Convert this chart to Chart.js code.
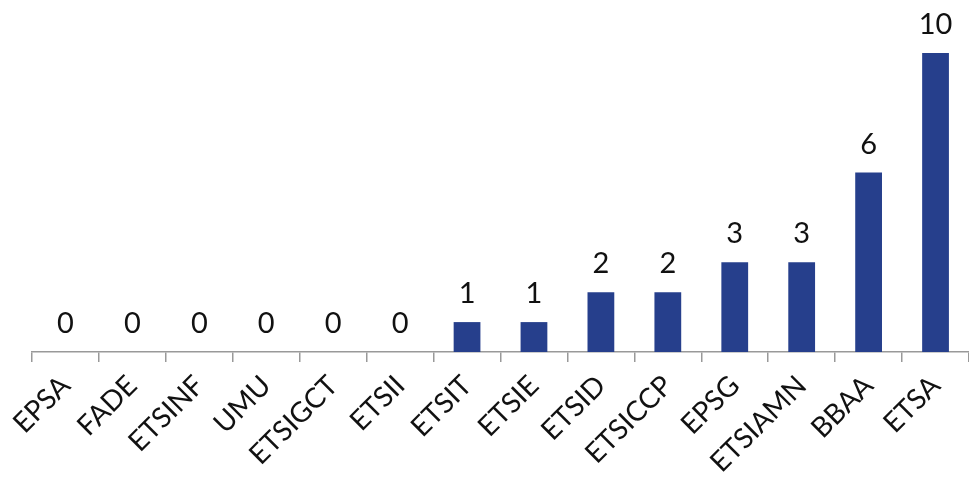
<!DOCTYPE html>
<html>
<head>
<meta charset="utf-8">
<script src="https://cdn.jsdelivr.net/npm/chart.js@4"></script>
<style>
html,body{margin:0;padding:0;background:#fff;}
#wrap{width:969px;height:478px;position:relative;}
</style>
</head>
<body>
<div id="wrap"><canvas id="c"></canvas></div>
<script>
const categories = ["EPSA","FADE","ETSINF","UMU","ETSIGCT","ETSII","ETSIT","ETSIE","ETSID","ETSICCP","EPSG","ETSIAMN","BBAA","ETSA"];
const values = [0,0,0,0,0,0,1,1,2,2,3,3,6,10];

const FONT = "'Lato','Open Sans','DejaVu Sans',sans-serif";

const valueLabels = {
  id: 'valueLabels',
  afterDatasetsDraw(chart) {
    const ctx = chart.ctx;
    const meta = chart.getDatasetMeta(0);
    ctx.save();
    ctx.fillStyle = '#111';
    ctx.font = "29px " + FONT;
    ctx.textAlign = 'center';
    ctx.textBaseline = 'alphabetic';
    meta.data.forEach((bar, i) => {
      ctx.fillText(String(values[i]), bar.x, bar.y - 19);
    });
    ctx.restore();
  }
};

new Chart(document.getElementById('c'), {
  type: 'bar',
  data: {
    labels: categories,
    datasets: [{
      data: values,
      backgroundColor: '#263F8C',
      borderWidth: 0,
      barPercentage: 0.4,
      categoryPercentage: 1.0
    }]
  },
  options: {
    responsive: true,
    maintainAspectRatio: false,
    animation: false,
    layout: { padding: { top: 23, left: 32, right: 0, bottom: 0 } },
    plugins: { legend: { display: false }, tooltip: { enabled: false } },
    scales: {
      y: { display: false, min: 0, max: 11 },
      x: {
        offset: true,
        afterFit(scale) { scale.height = 126; scale.paddingLeft = 0; scale.paddingRight = 0; },
        border: { display: true, color: '#999', width: 1.5 },
        grid: { display: true, drawOnChartArea: false, drawTicks: true, tickLength: 10, color: '#999', lineWidth: 1.5, offset: true },
        ticks: {
          color: '#111',
          font: { size: 28, family: FONT },
          maxRotation: 45, minRotation: 45,
          padding: 7,
          autoSkip: false
        }
      }
    }
  },
  plugins: [valueLabels]
});
</script>
</body>
</html>
